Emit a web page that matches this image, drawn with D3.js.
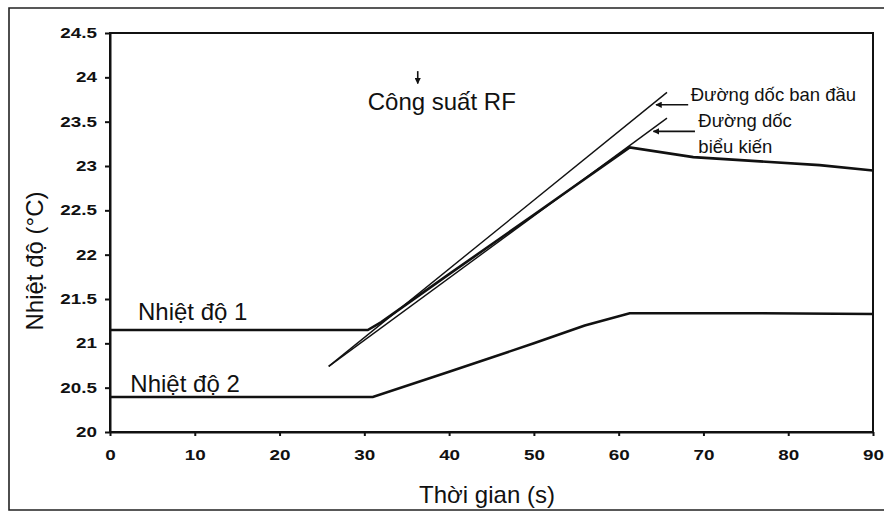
<html>
<head>
<meta charset="utf-8">
<title>Nhiet do</title>
<script src="https://d3js.org/d3.v7.min.js"></script>
<style type="text/css">
    body { margin: 0; background: #fff; }
    .axis path, .axis line {
        fill: none;
        stroke: #111;
        stroke-width: 2px;
    }
    .axis text {
        font-family: "Liberation Sans", Arial, sans-serif;
        font-weight: bold;
        font-size: 14.5px;
        fill: #111;
    }
    .lbl {
        font-family: "Liberation Sans", Arial, sans-serif;
        fill: #111;
    }
</style>
</head>
<body>
<script type="text/javascript">
// time (s) ticks and temperature ticks
var xTicks = [0, 10, 20, 30, 40, 50, 60, 70, 80, 90];
var yTicks = [20, 20.5, 21, 21.5, 22, 22.5, 23, 23.5, 24, 24.5];

// Nhiet do 1 : [t, value]
var nhietDo1 = [[0, 21.15], [30.4, 21.15], [32, 21.24], [40, 21.78], [50, 22.45],
                [61.3, 23.21], [68.8, 23.10], [83.7, 23.01], [90, 22.95]];
// Nhiet do 2
var nhietDo2 = [[0, 20.395], [31, 20.395], [40, 20.68], [50, 21.0], [56, 21.2],
                [61.3, 21.34], [75.5, 21.34], [90, 21.33]];
// slope lines
var docBanDau = [[25.8, 20.74], [65.7, 23.83]];
var docBieuKien = [[25.8, 20.74], [65.7, 23.54]];

var w = 884, h = 513;
var margin = {top: 33, right: 11, bottom: 81, left: 110};

var svg = d3.select('body').append('svg')
    .attr('width', w)
    .attr('height', h);

var xscale = d3.scaleLinear().domain([0, 90]).range([margin.left, w - margin.right]);
var yscale = d3.scaleLinear().domain([20, 24.5]).range([h - margin.bottom, margin.top]);

// outer frame (top, left, bottom; the right side is cut off)
svg.append('path')
    .attr('d', 'M884,8 L9,8 L9,510 L884,510')
    .attr('fill', 'none')
    .attr('stroke', '#222')
    .attr('stroke-width', 1.6);

// plot box
svg.append('rect')
    .attr('x', margin.left)
    .attr('y', margin.top)
    .attr('width', w - margin.left - margin.right)
    .attr('height', h - margin.top - margin.bottom)
    .attr('fill', 'none')
    .attr('stroke', '#111')
    .attr('stroke-width', 2);

var xAxis = d3.axisBottom(xscale).tickValues(xTicks).tickSize(4).tickSizeOuter(0).tickPadding(14);
svg.append('g')
    .attr('class', 'axis')
    .attr('transform', 'translate(0,' + (h - margin.bottom) + ')')
    .call(xAxis)
    .selectAll('text')
    .attr('transform', 'scale(1.3,1)');

var yAxis = d3.axisLeft(yscale).tickValues(yTicks).tickSize(5).tickSizeOuter(0)
    .tickFormat(function(d) { return d3.format('')(d); });
svg.append('g')
    .attr('class', 'axis')
    .attr('transform', 'translate(' + margin.left + ',0)')
    .call(yAxis)
    .selectAll('text')
    .attr('x', -10)
    .attr('transform', 'scale(1.3,1)');

var line = d3.line()
    .x(function(d) { return xscale(d[0]); })
    .y(function(d) { return yscale(d[1]); });

svg.append('path').datum(docBanDau)
    .attr('d', line).attr('fill', 'none').attr('stroke', '#111').attr('stroke-width', 1.4);
svg.append('path').datum(docBieuKien)
    .attr('d', line).attr('fill', 'none').attr('stroke', '#111').attr('stroke-width', 1.4);
svg.append('path').datum(nhietDo1)
    .attr('d', line).attr('fill', 'none').attr('stroke', '#111').attr('stroke-width', 2.6);
svg.append('path').datum(nhietDo2)
    .attr('d', line).attr('fill', 'none').attr('stroke', '#111').attr('stroke-width', 2.6);

// arrow marker
svg.append('defs').append('marker')
    .attr('id', 'arr')
    .attr('viewBox', '0 0 10 10')
    .attr('refX', 9).attr('refY', 5)
    .attr('markerWidth', 4).attr('markerHeight', 4)
    .attr('orient', 'auto')
    .append('path')
    .attr('d', 'M0,0 L10,5 L0,10 z')
    .attr('fill', '#111');

function arrow(t1, v1, t2, v2) {
    svg.append('line')
        .attr('x1', xscale(t1)).attr('y1', yscale(v1))
        .attr('x2', xscale(t2)).attr('y2', yscale(v2))
        .attr('stroke', '#111').attr('stroke-width', 1.6)
        .attr('marker-end', 'url(#arr)');
}

function label(t, v, txt, size) {
    svg.append('text')
        .attr('class', 'lbl')
        .attr('x', xscale(t))
        .attr('y', yscale(v))
        .style('font-size', size + 'px')
        .text(txt);
}

label(3.3, 21.26, 'Nhiệt độ 1', 24);
label(2.4, 20.45, 'Nhiệt độ 2', 24);
label(30.4, 23.63, 'Công suất RF', 24);
arrow(36.3, 24.07, 36.3, 23.93);

label(68.5, 23.73, 'Đường dốc ban đầu', 18.5);
label(69.4, 23.44, 'Đường dốc', 18.5);
label(69.4, 23.15, 'biểu kiến', 18.5);
arrow(68.2, 23.69, 64.4, 23.69);
arrow(69.0, 23.39, 64.1, 23.39);

// axis titles
svg.append('text')
    .attr('class', 'lbl')
    .attr('x', 487)
    .attr('y', 503)
    .style('font-size', '24px')
    .style('text-anchor', 'middle')
    .text('Thời gian (s)');

svg.append('text')
    .attr('class', 'lbl')
    .attr('transform', 'translate(43,261) rotate(-90)')
    .style('font-size', '24px')
    .style('text-anchor', 'middle')
    .text('Nhiệt độ (°C)');
</script>
</body>
</html>
